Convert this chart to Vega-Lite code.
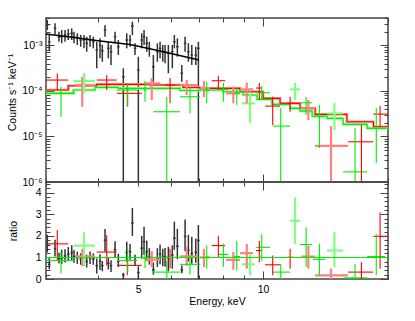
{
  "$schema": "https://vega.github.io/schema/vega-lite/v6.json",
  "autosize": "none",
  "padding": {"left": 46, "top": 18, "right": 369, "bottom": 303},
  "background": "white",
  "config": {
    "view": {"stroke": "#444", "strokeWidth": 1.5},
    "axis": {"grid": false, "domain": false, "labelFont": "Liberation Sans", "labelFontSize": 10, "labelColor": "#000", "titleFont": "Liberation Sans", "titleFontSize": 10, "titleFontWeight": "normal", "titleColor": "#000", "tickColor": "#444", "tickWidth": 1, "labelPadding": 4}
  },
  "datasets": {
    "blk": [
      {"e": 3.022, "elo": 3.001, "ehi": 3.043, "y": 2.806e-3, "ylo": 2.180e-3, "yhi": 3.614e-3, "r": 1.59, "rlo": 1.24, "rhi": 2.05},
      {"e": 3.055, "elo": 3.034, "ehi": 3.076, "y": 1.187e-3, "ylo": 7.92e-4, "yhi": 1.692e-3, "r": 0.68, "rlo": 0.45, "rhi": 0.97},
      {"e": 3.154, "elo": 3.132, "ehi": 3.176, "y": 2.375e-3, "ylo": 1.753e-3, "yhi": 3.058e-3, "r": 1.41, "rlo": 1.04, "rhi": 1.82},
      {"e": 3.224, "elo": 3.201, "ehi": 3.247, "y": 1.552e-3, "ylo": 1.205e-3, "yhi": 1.999e-3, "r": 0.95, "rlo": 0.73, "rhi": 1.22},
      {"e": 3.273, "elo": 3.250, "ehi": 3.296, "y": 1.552e-3, "ylo": 1.112e-3, "yhi": 2.180e-3, "r": 0.97, "rlo": 0.69, "rhi": 1.36},
      {"e": 3.334, "elo": 3.311, "ehi": 3.357, "y": 1.692e-3, "ylo": 1.205e-3, "yhi": 2.180e-3, "r": 1.07, "rlo": 0.76, "rhi": 1.38},
      {"e": 3.395, "elo": 3.371, "ehi": 3.419, "y": 1.780e-3, "ylo": 1.313e-3, "yhi": 2.292e-3, "r": 1.15, "rlo": 0.85, "rhi": 1.48},
      {"e": 3.460, "elo": 3.436, "ehi": 3.484, "y": 1.843e-3, "ylo": 1.313e-3, "yhi": 2.375e-3, "r": 1.22, "rlo": 0.87, "rhi": 1.57},
      {"e": 3.504, "elo": 3.479, "ehi": 3.529, "y": 1.552e-3, "ylo": 1.112e-3, "yhi": 1.999e-3, "r": 1.04, "rlo": 0.75, "rhi": 1.34},
      {"e": 3.569, "elo": 3.544, "ehi": 3.594, "y": 1.476e-3, "ylo": 1.020e-3, "yhi": 1.843e-3, "r": 1.02, "rlo": 0.70, "rhi": 1.27},
      {"e": 3.637, "elo": 3.612, "ehi": 3.662, "y": 1.313e-3, "ylo": 9.36e-4, "yhi": 1.692e-3, "r": 0.92, "rlo": 0.66, "rhi": 1.19},
      {"e": 3.704, "elo": 3.678, "ehi": 3.730, "y": 1.313e-3, "ylo": 8.63e-4, "yhi": 1.692e-3, "r": 0.95, "rlo": 0.62, "rhi": 1.22},
      {"e": 3.760, "elo": 3.734, "ehi": 3.786, "y": 1.112e-3, "ylo": 7.27e-4, "yhi": 1.552e-3, "r": 0.81, "rlo": 0.53, "rhi": 1.13},
      {"e": 3.830, "elo": 3.803, "ehi": 3.857, "y": 1.313e-3, "ylo": 9.36e-4, "yhi": 1.692e-3, "r": 0.98, "rlo": 0.70, "rhi": 1.27},
      {"e": 3.900, "elo": 3.873, "ehi": 3.927, "y": 1.205e-3, "ylo": 8.63e-4, "yhi": 1.552e-3, "r": 0.92, "rlo": 0.66, "rhi": 1.19},
      {"e": 3.975, "elo": 3.947, "ehi": 4.003, "y": 7.92e-4, "ylo": 3.14e-4, "yhi": 1.205e-3, "r": 0.62, "rlo": 0.25, "rhi": 0.95},
      {"e": 4.048, "elo": 4.020, "ehi": 4.076, "y": 1.020e-3, "ylo": 5.20e-4, "yhi": 1.431e-3, "r": 0.82, "rlo": 0.42, "rhi": 1.15},
      {"e": 4.100, "elo": 4.071, "ehi": 4.129, "y": 7.64e-4, "ylo": 4.38e-4, "yhi": 1.020e-3, "r": 0.62, "rlo": 0.36, "rhi": 0.83},
      {"e": 4.162, "elo": 4.133, "ehi": 4.191, "y": 2.180e-3, "ylo": 1.552e-3, "yhi": 2.806e-3, "r": 1.80, "rlo": 1.28, "rhi": 2.32},
      {"e": 4.239, "elo": 4.209, "ehi": 4.269, "y": 8.63e-4, "ylo": 5.20e-4, "yhi": 1.205e-3, "r": 0.73, "rlo": 0.44, "rhi": 1.02},
      {"e": 4.303, "elo": 4.273, "ehi": 4.333, "y": 7.27e-4, "ylo": 3.71e-4, "yhi": 1.020e-3, "r": 0.62, "rlo": 0.32, "rhi": 0.87},
      {"e": 4.400, "elo": 4.369, "ehi": 4.431, "y": 1.552e-3, "ylo": 1.112e-3, "yhi": 1.999e-3, "r": 1.36, "rlo": 0.97, "rhi": 1.75},
      {"e": 4.481, "elo": 4.450, "ehi": 4.512, "y": 9.36e-4, "ylo": 6.15e-4, "yhi": 1.313e-3, "r": 0.83, "rlo": 0.55, "rhi": 1.17},
      {"e": 4.607, "elo": 4.575, "ehi": 4.639, "y": 2.05e-4, "ylo": 1e-6, "yhi": 3.14e-4, "r": 0.19, "rlo": 0, "rhi": 0.29},
      {"e": 4.695, "elo": 4.662, "ehi": 4.728, "y": 1.313e-3, "ylo": 8.63e-4, "yhi": 1.843e-3, "r": 1.23, "rlo": 0.81, "rhi": 1.73},
      {"e": 4.782, "elo": 4.749, "ehi": 4.815, "y": 1.313e-3, "ylo": 9.36e-4, "yhi": 1.692e-3, "r": 1.26, "rlo": 0.89, "rhi": 1.62},
      {"e": 4.844, "elo": 4.810, "ehi": 4.878, "y": 2.668e-3, "ylo": 1.692e-3, "yhi": 3.317e-3, "r": 2.6, "rlo": 2.0, "rhi": 3.3},
      {"e": 4.916, "elo": 4.882, "ehi": 4.950, "y": 8.63e-4, "ylo": 6.15e-4, "yhi": 1.112e-3, "r": 0.87, "rlo": 0.62, "rhi": 1.12},
      {"e": 5.007, "elo": 4.972, "ehi": 5.042, "y": 2.88e-4, "ylo": 1e-6, "yhi": 5.64e-4, "r": 0.30, "rlo": 0, "rhi": 0.59},
      {"e": 5.102, "elo": 5.066, "ehi": 5.138, "y": 1.313e-3, "ylo": 8.63e-4, "yhi": 1.843e-3, "r": 1.43, "rlo": 0.94, "rhi": 2.0},
      {"e": 5.168, "elo": 5.132, "ehi": 5.204, "y": 1.552e-3, "ylo": 1.020e-3, "yhi": 2.180e-3, "r": 1.73, "rlo": 1.13, "rhi": 2.42},
      {"e": 5.246, "elo": 5.209, "ehi": 5.283, "y": 1.112e-3, "ylo": 7.27e-4, "yhi": 1.552e-3, "r": 1.27, "rlo": 0.83, "rhi": 1.78},
      {"e": 5.322, "elo": 5.285, "ehi": 5.359, "y": 8.63e-4, "ylo": 5.64e-4, "yhi": 1.205e-3, "r": 1.02, "rlo": 0.67, "rhi": 1.43},
      {"e": 5.442, "elo": 5.404, "ehi": 5.480, "y": 3.40e-4, "ylo": 1.59e-4, "yhi": 6.15e-4, "r": 0.42, "rlo": 0.20, "rhi": 0.76},
      {"e": 5.564, "elo": 5.525, "ehi": 5.603, "y": 7.27e-4, "ylo": 4.38e-4, "yhi": 1.112e-3, "r": 0.94, "rlo": 0.56, "rhi": 1.43},
      {"e": 5.648, "elo": 5.608, "ehi": 5.688, "y": 8.63e-4, "ylo": 5.20e-4, "yhi": 1.205e-3, "r": 1.15, "rlo": 0.69, "rhi": 1.60},
      {"e": 5.733, "elo": 5.693, "ehi": 5.773, "y": 7.27e-4, "ylo": 4.38e-4, "yhi": 1.020e-3, "r": 1.00, "rlo": 0.60, "rhi": 1.40},
      {"e": 5.807, "elo": 5.766, "ehi": 5.848, "y": 7.27e-4, "ylo": 4.04e-4, "yhi": 1.020e-3, "r": 1.03, "rlo": 0.57, "rhi": 1.44},
      {"e": 5.914, "elo": 5.873, "ehi": 5.955, "y": 6.70e-4, "ylo": 2.44e-4, "yhi": 1.020e-3, "r": 0.98, "rlo": 0.36, "rhi": 1.49},
      {"e": 6.046, "elo": 6.004, "ehi": 6.088, "y": 7.27e-4, "ylo": 3.14e-4, "yhi": 1.020e-3, "r": 1.11, "rlo": 0.48, "rhi": 1.56},
      {"e": 6.114, "elo": 6.071, "ehi": 6.157, "y": 1.205e-3, "ylo": 8.63e-4, "yhi": 1.692e-3, "r": 1.89, "rlo": 1.36, "rhi": 2.66},
      {"e": 6.217, "elo": 6.173, "ehi": 6.261, "y": 9.36e-4, "ylo": 5.64e-4, "yhi": 1.431e-3, "r": 1.52, "rlo": 0.92, "rhi": 2.33},
      {"e": 6.371, "elo": 6.326, "ehi": 6.416, "y": 2.44e-4, "ylo": 1.59e-4, "yhi": 3.71e-4, "r": 0.42, "rlo": 0.27, "rhi": 0.63},
      {"e": 6.489, "elo": 6.444, "ehi": 6.534, "y": 1.112e-3, "ylo": 7.27e-4, "yhi": 1.552e-3, "r": 1.98, "rlo": 1.29, "rhi": 2.76},
      {"e": 6.609, "elo": 6.563, "ehi": 6.655, "y": 7.27e-4, "ylo": 4.38e-4, "yhi": 1.112e-3, "r": 1.34, "rlo": 0.81, "rhi": 2.05},
      {"e": 6.735, "elo": 6.688, "ehi": 6.782, "y": 6.15e-4, "ylo": 3.71e-4, "yhi": 1.020e-3, "r": 1.18, "rlo": 0.71, "rhi": 1.96},
      {"e": 6.886, "elo": 6.838, "ehi": 6.934, "y": 6.15e-4, "ylo": 3.71e-4, "yhi": 9.36e-4, "r": 1.24, "rlo": 0.75, "rhi": 1.88},
      {"e": 6.986, "elo": 6.937, "ehi": 7.035, "y": 8.63e-4, "ylo": 1e-6, "yhi": 1.205e-3, "r": 1.79, "rlo": 0, "rhi": 2.50}
    ],
    "col": [
      {"s": "rp", "e": 3.669, "elo": 3.524, "ehi": 3.937, "y": 1.347e-4, "ylo": 4.49e-5, "yhi": 2.05e-4, "r": 1.05, "rlo": 0.6, "rhi": 1.4},
      {"s": "rp", "e": 5.394, "elo": 5.196, "ehi": 5.648, "y": 1.468e-4, "ylo": 6.31e-5, "yhi": 1.92e-4, "r": 0.9, "rlo": 0.55, "rhi": 1.3},
      {"s": "rp", "e": 6.548, "elo": 6.311, "ehi": 6.974, "y": 1.347e-4, "ylo": 8.12e-5, "yhi": 1.735e-4, "r": 1.05, "rlo": 0.6, "rhi": 1.5},
      {"s": "rp", "e": 7.209, "elo": 7.051, "ehi": 7.45, "y": 1.157e-4, "ylo": 7.34e-5, "yhi": 1.65e-4, "r": 1.0, "rlo": 0.55, "rhi": 1.4},
      {"s": "rp", "e": 8.481, "elo": 8.146, "ehi": 8.803, "y": 8.85e-5, "ylo": 5.34e-5, "yhi": 1.236e-4, "r": 0.89, "rlo": 0.43, "rhi": 1.25},
      {"s": "rp", "e": 9.137, "elo": 8.803, "ehi": 9.461, "y": 1.084e-4, "ylo": 5.34e-5, "yhi": 1.514e-4, "r": 1.20, "rlo": 0.48, "rhi": 1.63},
      {"s": "rp", "e": 12.86, "elo": 12.35, "ehi": 13.35, "y": 4.14e-5, "ylo": 2.29e-5, "yhi": 6.31e-5, "r": 1.04, "rlo": 0.48, "rhi": 1.55},
      {"s": "rp", "e": 14.58, "elo": 13.35, "ehi": 16.03, "y": 6.24e-6, "ylo": 1e-6, "yhi": 1.69e-5, "r": 0.17, "rlo": 0, "rhi": 0.48},
      {"s": "gp", "e": 3.704, "elo": 3.491, "ehi": 3.937, "y": 1.65e-4, "ylo": 8.85e-5, "yhi": 2.47e-4, "r": 1.55, "rlo": 0.63, "rhi": 2.17},
      {"s": "gp", "e": 9.305, "elo": 8.887, "ehi": 9.56, "y": 5.34e-5, "ylo": 1.94e-5, "yhi": 9.60e-5, "r": 0.68, "rlo": 0.17, "rhi": 1.14},
      {"s": "gp", "e": 11.94, "elo": 11.62, "ehi": 12.28, "y": 1.084e-4, "ylo": 6.31e-5, "yhi": 1.49e-4, "r": 2.70, "rlo": 1.63, "rhi": 3.78},
      {"s": "gp", "e": 14.86, "elo": 14.27, "ehi": 15.59, "y": 3.22e-5, "ylo": 1.38e-5, "yhi": 5.50e-5, "r": 1.32, "rlo": 0.56, "rhi": 2.17},
      {"s": "r", "e": 3.194, "elo": 3.0, "ehi": 3.395, "y": 1.735e-4, "ylo": 1.046e-4, "yhi": 2.43e-4, "r": 1.63, "rlo": 0.86, "rhi": 2.27},
      {"s": "r", "e": 4.201, "elo": 3.975, "ehi": 4.441, "y": 1.735e-4, "ylo": 1.046e-4, "yhi": 2.23e-4, "r": 1.25, "rlo": 0.63, "rhi": 2.04},
      {"s": "r", "e": 4.710, "elo": 4.448, "ehi": 5.102, "y": 8.85e-5, "ylo": 4.49e-5, "yhi": 1.468e-4, "r": 0.63, "rlo": 0.17, "rhi": 1.0},
      {"s": "r", "e": 5.970, "elo": 5.81, "ehi": 6.14, "y": 1.347e-4, "ylo": 5.34e-5, "yhi": 1.92e-4, "r": 1.0, "rlo": 0.5, "rhi": 1.4},
      {"s": "r", "e": 7.804, "elo": 7.521, "ehi": 8.101, "y": 1.675e-4, "ylo": 1.046e-4, "yhi": 2.125e-4, "r": 1.55, "rlo": 1.01, "rhi": 2.01},
      {"s": "r", "e": 9.797, "elo": 9.619, "ehi": 9.928, "y": 1.157e-4, "ylo": 6.31e-5, "yhi": 1.49e-4, "r": 1.32, "rlo": 0.78, "rhi": 1.78},
      {"s": "r", "e": 10.55, "elo": 10.11, "ehi": 10.99, "y": 4.65e-5, "ylo": 1.78e-5, "yhi": 7.45e-5, "r": 0.66, "rlo": 0.17, "rhi": 1.09},
      {"s": "r", "e": 11.62, "elo": 11.43, "ehi": 11.81, "y": 5.34e-5, "ylo": 3.49e-5, "yhi": 7.45e-5, "r": 1.01, "rlo": 0.48, "rhi": 1.40},
      {"s": "r", "e": 17.26, "elo": 16.03, "ehi": 18.43, "y": 7.64e-6, "ylo": 1e-6, "yhi": 1.78e-5, "r": 0.32, "rlo": 0, "rhi": 0.78},
      {"s": "r", "e": 19.14, "elo": 18.43, "ehi": 20.0, "y": 3.10e-5, "ylo": 1.61e-5, "yhi": 4.65e-5, "r": 1.98, "rlo": 0.48, "rhi": 3.09},
      {"s": "g", "e": 3.26, "elo": 3.0, "ehi": 3.524, "y": 8.85e-5, "ylo": 2.71e-5, "yhi": 1.236e-4, "r": 0.86, "rlo": 0.26, "rhi": 1.25},
      {"s": "g", "e": 4.721, "elo": 4.448, "ehi": 4.971, "y": 1.046e-4, "ylo": 4.49e-5, "yhi": 1.49e-4, "r": 0.86, "rlo": 0.3, "rhi": 1.4},
      {"s": "g", "e": 5.196, "elo": 5.15, "ehi": 5.24, "y": 1.046e-4, "ylo": 5.79e-5, "yhi": 1.65e-4, "r": 0.95, "rlo": 0.5, "rhi": 1.3},
      {"s": "g", "e": 5.862, "elo": 5.433, "ehi": 6.311, "y": 3.49e-5, "ylo": 1e-6, "yhi": 7.45e-5, "r": 0.32, "rlo": 0, "rhi": 0.86},
      {"s": "g", "e": 6.669, "elo": 6.311, "ehi": 7.051, "y": 7.45e-5, "ylo": 3.22e-5, "yhi": 1.236e-4, "r": 0.68, "rlo": 0.2, "rhi": 1.1},
      {"s": "g", "e": 7.318, "elo": 7.209, "ehi": 7.45, "y": 1.046e-4, "ylo": 5.34e-5, "yhi": 1.59e-4, "r": 1.01, "rlo": 0.48, "rhi": 1.55},
      {"s": "g", "e": 8.025, "elo": 7.804, "ehi": 8.25, "y": 1.084e-4, "ylo": 5.79e-5, "yhi": 1.49e-4, "r": 1.14, "rlo": 0.56, "rhi": 1.63},
      {"s": "g", "e": 8.643, "elo": 8.481, "ehi": 8.803, "y": 8.85e-5, "ylo": 4.9e-5, "yhi": 1.236e-4, "r": 1.04, "rlo": 0.4, "rhi": 1.78},
      {"s": "g", "e": 9.928, "elo": 9.619, "ehi": 10.40, "y": 9.13e-5, "ylo": 6.31e-5, "yhi": 1.281e-4, "r": 1.47, "rlo": 0.85, "rhi": 2.08},
      {"s": "g", "e": 11.03, "elo": 10.55, "ehi": 11.62, "y": 1.69e-5, "ylo": 1e-6, "yhi": 4.21e-5, "r": 0.32, "rlo": 0, "rhi": 0.70},
      {"s": "g", "e": 12.70, "elo": 12.28, "ehi": 13.13, "y": 5.50e-5, "ylo": 2.95e-5, "yhi": 7.34e-5, "r": 1.60, "rlo": 0.56, "rhi": 2.4},
      {"s": "g", "e": 13.67, "elo": 13.2, "ehi": 14.11, "y": 2.71e-5, "ylo": 5.56e-6, "yhi": 4.9e-5, "r": 0.91, "rlo": 0.17, "rhi": 1.63},
      {"s": "g", "e": 16.66, "elo": 15.59, "ehi": 17.81, "y": 1.67e-6, "ylo": 1e-6, "yhi": 1.53e-5, "r": 0.05, "rlo": 0, "rhi": 0.7},
      {"s": "g", "e": 18.74, "elo": 17.81, "ehi": 19.68, "y": 1.51e-5, "ylo": 2.6e-6, "yhi": 4.21e-5, "r": 1.04, "rlo": 0.17, "rhi": 2.08}
    ],
    "mod": [
      {"s": "r", "e": 3.0, "y": 1.046e-4}, {"s": "r", "e": 3.395, "y": 1.300e-4}, {"s": "r", "e": 3.975, "y": 1.396e-4},
      {"s": "r", "e": 5.342, "y": 1.347e-4}, {"s": "r", "e": 6.416, "y": 1.187e-4}, {"s": "r", "e": 7.051, "y": 1.140e-4},
      {"s": "r", "e": 8.803, "y": 9.60e-5}, {"s": "r", "e": 10.0, "y": 6.87e-5}, {"s": "r", "e": 10.99, "y": 5.34e-5},
      {"s": "r", "e": 12.28, "y": 4.14e-5}, {"s": "r", "e": 13.35, "y": 3.06e-5}, {"s": "r", "e": 15.92, "y": 2.10e-5},
      {"s": "r", "e": 18.45, "y": 1.63e-5}, {"s": "r", "e": 20.0, "y": 1.63e-5},
      {"s": "g", "e": 3.0, "y": 8.85e-5}, {"s": "g", "e": 3.491, "y": 1.046e-4}, {"s": "g", "e": 3.937, "y": 1.199e-4},
      {"s": "g", "e": 4.481, "y": 1.140e-4}, {"s": "g", "e": 6.311, "y": 1.020e-4}, {"s": "g", "e": 7.051, "y": 1.046e-4},
      {"s": "g", "e": 8.011, "y": 9.60e-5}, {"s": "g", "e": 8.951, "y": 8.12e-5}, {"s": "g", "e": 9.674, "y": 6.53e-5},
      {"s": "g", "e": 10.51, "y": 5.07e-5}, {"s": "g", "e": 11.62, "y": 4.14e-5}, {"s": "g", "e": 12.28, "y": 3.61e-5},
      {"s": "g", "e": 13.13, "y": 2.81e-5}, {"s": "g", "e": 14.27, "y": 2.50e-5}, {"s": "g", "e": 15.59, "y": 1.84e-5},
      {"s": "g", "e": 17.81, "y": 1.51e-5}, {"s": "g", "e": 20.0, "y": 1.51e-5}
    ],
    "bmod": [
      {"e": 3.0, "y": 1.78e-3}, {"e": 3.43, "y": 1.529e-3}, {"e": 4.05, "y": 1.249e-3},
      {"e": 4.78, "y": 1.046e-3}, {"e": 5.65, "y": 7.53e-4}, {"e": 7.01, "y": 4.77e-4}
    ]
  },
  "vconcat": [
    {
      "width": 342,
      "height": 164,
      "resolve": {"axis": {"x": "independent", "y": "independent"}, "scale": {"color": "independent"}},
      "layer": [
        {
          "data": {"name": "blk"},
          "mark": {"type": "rule", "color": "#333", "strokeWidth": 1.5},
          "encoding": {
            "x": {"field": "elo", "type": "quantitative", "scale": {"type": "log", "domain": [3, 20], "nice": false},
              "axis": {"orient": "bottom", "values": [3, 4, 5, 6, 7, 8, 9, 10, 20], "labels": false, "title": null,
                "tickSize": {"condition": {"test": "datum.value == 10", "value": -8}, "value": -4}}},
            "x2": {"field": "ehi"},
            "y": {"field": "y", "type": "quantitative", "scale": {"type": "log", "domain": [0.000001, 0.004], "nice": false, "clamp": true},
              "axis": {"orient": "left",
                "values": [0.000001, 0.000002, 0.000003, 0.000004, 0.000005, 0.000006, 0.000007, 0.000008, 0.000009, 0.00001, 0.00002, 0.00003, 0.00004, 0.00005, 0.00006, 0.00007, 0.00008, 0.00009, 0.0001, 0.0002, 0.0003, 0.0004, 0.0005, 0.0006, 0.0007, 0.0008, 0.0009, 0.001, 0.002, 0.003, 0.004],
                "labelExpr": "datum.value == 0.001 ? '10⁻³' : datum.value == 0.0001 ? '10⁻⁴' : datum.value == 0.00001 ? '10⁻⁵' : datum.value == 0.000001 ? '10⁻⁶' : ''",
                "labelOverlap": false, "labelFontSize": 10.5, "labelPadding": 12,
                "tickSize": {"condition": {"test": "indexof([0.000001, 0.00001, 0.0001, 0.001], datum.value) >= 0", "value": -8}, "value": -4},
                "title": "Counts s⁻¹    keV⁻¹", "titleFontSize": 10.5, "titleX": -34, "titleY": 74, "titleBaseline": "middle", "titleAngle": 270}}
          }
        },
        {
          "data": {"name": "blk"},
          "mark": {"type": "rule", "color": "#333", "strokeWidth": 1.5},
          "encoding": {
            "x": {"field": "e", "type": "quantitative", "scale": {"type": "log", "domain": [3, 20], "nice": false}, "axis": null},
            "y": {"field": "ylo", "type": "quantitative", "scale": {"type": "log", "domain": [0.000001, 0.004], "nice": false, "clamp": true}, "axis": null},
            "y2": {"field": "yhi"}
          }
        },
        {
          "data": {"name": "bmod"},
          "mark": {"type": "line", "color": "#000", "strokeWidth": 1.5},
          "encoding": {
            "x": {"field": "e", "type": "quantitative", "scale": {"type": "log", "domain": [3, 20], "nice": false}, "axis": null},
            "y": {"field": "y", "type": "quantitative", "scale": {"type": "log", "domain": [0.000001, 0.004], "nice": false, "clamp": true}, "axis": null}
          }
        },
        {
          "data": {"name": "mod"},
          "mark": {"type": "line", "interpolate": "step-after", "strokeWidth": 2.6},
          "encoding": {
            "x": {"field": "e", "type": "quantitative", "scale": {"type": "log", "domain": [3, 20], "nice": false}, "axis": null},
            "y": {"field": "y", "type": "quantitative", "scale": {"type": "log", "domain": [0.000001, 0.004], "nice": false, "clamp": true}, "axis": null},
            "color": {"field": "s", "type": "nominal", "scale": {"domain": ["r", "g"], "range": ["#ff9999", "#99ff99"]}, "legend": null}
          }
        },
        {
          "data": {"name": "mod"},
          "mark": {"type": "line", "interpolate": "step-after", "strokeWidth": 1.1},
          "encoding": {
            "x": {"field": "e", "type": "quantitative", "scale": {"type": "log", "domain": [3, 20], "nice": false}, "axis": null},
            "y": {"field": "y", "type": "quantitative", "scale": {"type": "log", "domain": [0.000001, 0.004], "nice": false, "clamp": true}, "axis": null},
            "color": {"field": "s", "type": "nominal", "scale": {"domain": ["r", "g"], "range": ["#ff0000", "#00ee00"]}, "legend": null}
          }
        },
        {
          "data": {"name": "col"},
          "transform": [{"filter": "datum.s == 'rp' || datum.s == 'gp'"}],
          "mark": {"type": "rule", "strokeWidth": 2.2},
          "encoding": {
            "x": {"field": "elo", "type": "quantitative", "scale": {"type": "log", "domain": [3, 20], "nice": false}, "axis": null},
            "x2": {"field": "ehi"},
            "y": {"field": "y", "type": "quantitative", "scale": {"type": "log", "domain": [0.000001, 0.004], "nice": false, "clamp": true}, "axis": null},
            "color": {"field": "s", "type": "nominal", "scale": {"domain": ["rp", "gp", "r", "g"], "range": ["#ff8080", "#80ff80", "#ff0000", "#00ee00"]}, "legend": null}
          }
        },
        {
          "data": {"name": "col"},
          "transform": [{"filter": "datum.s == 'rp' || datum.s == 'gp'"}],
          "mark": {"type": "rule", "strokeWidth": 2.2},
          "encoding": {
            "x": {"field": "e", "type": "quantitative", "scale": {"type": "log", "domain": [3, 20], "nice": false}, "axis": null},
            "y": {"field": "ylo", "type": "quantitative", "scale": {"type": "log", "domain": [0.000001, 0.004], "nice": false, "clamp": true}, "axis": null},
            "y2": {"field": "yhi"},
            "color": {"field": "s", "type": "nominal", "scale": {"domain": ["rp", "gp", "r", "g"], "range": ["#ff8080", "#80ff80", "#ff0000", "#00ee00"]}, "legend": null}
          }
        },
        {
          "data": {"name": "col"},
          "transform": [{"filter": "datum.s == 'r' || datum.s == 'g'"}],
          "mark": {"type": "rule", "strokeWidth": 1.1},
          "encoding": {
            "x": {"field": "elo", "type": "quantitative", "scale": {"type": "log", "domain": [3, 20], "nice": false}, "axis": null},
            "x2": {"field": "ehi"},
            "y": {"field": "y", "type": "quantitative", "scale": {"type": "log", "domain": [0.000001, 0.004], "nice": false, "clamp": true}, "axis": null},
            "color": {"field": "s", "type": "nominal", "scale": {"domain": ["rp", "gp", "r", "g"], "range": ["#ff8080", "#80ff80", "#ff0000", "#00ee00"]}, "legend": null}
          }
        },
        {
          "data": {"name": "col"},
          "transform": [{"filter": "datum.s == 'r' || datum.s == 'g'"}],
          "mark": {"type": "rule", "strokeWidth": 1.1},
          "encoding": {
            "x": {"field": "e", "type": "quantitative", "scale": {"type": "log", "domain": [3, 20], "nice": false}, "axis": null},
            "y": {"field": "ylo", "type": "quantitative", "scale": {"type": "log", "domain": [0.000001, 0.004], "nice": false, "clamp": true}, "axis": null},
            "y2": {"field": "yhi"},
            "color": {"field": "s", "type": "nominal", "scale": {"domain": ["rp", "gp", "r", "g"], "range": ["#ff8080", "#80ff80", "#ff0000", "#00ee00"]}, "legend": null}
          }
        },
        {
          "data": {"name": "bmod"},
          "mark": {"type": "point", "opacity": 0},
          "encoding": {
            "x": {"field": "e", "type": "quantitative", "scale": {"type": "log", "domain": [3, 20], "nice": false},
              "axis": {"orient": "top", "values": [3, 4, 5, 6, 7, 8, 9, 10, 20], "labels": false, "title": null,
                "tickSize": {"condition": {"test": "datum.value == 10", "value": -8}, "value": -4}}},
            "y": {"field": "y", "type": "quantitative", "scale": {"type": "log", "domain": [0.000001, 0.004], "nice": false, "clamp": true},
              "axis": {"orient": "right",
                "values": [0.000001, 0.000002, 0.000003, 0.000004, 0.000005, 0.000006, 0.000007, 0.000008, 0.000009, 0.00001, 0.00002, 0.00003, 0.00004, 0.00005, 0.00006, 0.00007, 0.00008, 0.00009, 0.0001, 0.0002, 0.0003, 0.0004, 0.0005, 0.0006, 0.0007, 0.0008, 0.0009, 0.001, 0.002, 0.003, 0.004],
                "labels": false, "title": null,
                "tickSize": {"condition": {"test": "indexof([0.000001, 0.00001, 0.0001, 0.001], datum.value) >= 0", "value": -8}, "value": -4}}}
          }
        }
      ]
    },
    {
      "width": 342,
      "height": 97,
      "resolve": {"axis": {"x": "independent", "y": "independent"}, "scale": {"color": "independent"}},
      "layer": [
        {
          "data": {"name": "blk"},
          "mark": {"type": "rule", "color": "#333", "strokeWidth": 1.5},
          "encoding": {
            "x": {"field": "elo", "type": "quantitative", "scale": {"type": "log", "domain": [3, 20], "nice": false},
              "axis": {"orient": "bottom", "values": [3, 4, 5, 6, 7, 8, 9, 10, 20],
                "labelExpr": "datum.value == 5 ? '5' : datum.value == 10 ? '10' : ''", "labelFlush": false, "labelOverlap": false,
                "labelFontSize": 10.5,
                "labelPadding": {"condition": {"test": "datum.value == 10", "value": 13}, "value": 9},
                "tickSize": {"condition": {"test": "datum.value == 10", "value": -8}, "value": -4},
                "title": "Energy, keV", "titleFontSize": 10.5, "titleY": 22, "titleBaseline": "middle"}},
            "x2": {"field": "ehi"},
            "y": {"field": "r", "type": "quantitative", "scale": {"domain": [0, 4.5], "nice": false, "zero": false, "clamp": true},
              "axis": {"orient": "left",
                "values": [0, 0.2, 0.4, 0.6, 0.8, 1, 1.2, 1.4, 1.6, 1.8, 2, 2.2, 2.4, 2.6, 2.8, 3, 3.2, 3.4, 3.6, 3.8, 4, 4.2, 4.4],
                "labelExpr": "datum.value == 0 ? '0' : datum.value == 1 ? '1' : datum.value == 2 ? '2' : datum.value == 3 ? '3' : datum.value == 4 ? '4' : ''",
                "labelOverlap": false, "labelFontSize": 10.5, "labelPadding": 13,
                "tickSize": {"condition": {"test": "indexof([0, 1, 2, 3, 4], datum.value) >= 0", "value": -8}, "value": -4},
                "title": "ratio", "titleFontSize": 10.5, "titleX": -33, "titleBaseline": "middle", "titleAngle": 270}}
          }
        },
        {
          "data": {"name": "blk"},
          "mark": {"type": "rule", "color": "#333", "strokeWidth": 1.5},
          "encoding": {
            "x": {"field": "e", "type": "quantitative", "scale": {"type": "log", "domain": [3, 20], "nice": false}, "axis": null},
            "y": {"field": "rlo", "type": "quantitative", "scale": {"domain": [0, 4.5], "nice": false, "zero": false, "clamp": true}, "axis": null},
            "y2": {"field": "rhi"}
          }
        },
        {
          "data": {"name": "col"},
          "transform": [{"filter": "datum.s == 'rp' || datum.s == 'gp'"}],
          "mark": {"type": "rule", "strokeWidth": 2.2},
          "encoding": {
            "x": {"field": "elo", "type": "quantitative", "scale": {"type": "log", "domain": [3, 20], "nice": false}, "axis": null},
            "x2": {"field": "ehi"},
            "y": {"field": "r", "type": "quantitative", "scale": {"domain": [0, 4.5], "nice": false, "zero": false, "clamp": true}, "axis": null},
            "color": {"field": "s", "type": "nominal", "scale": {"domain": ["rp", "gp", "r", "g"], "range": ["#ff8080", "#80ff80", "#ff0000", "#00ee00"]}, "legend": null}
          }
        },
        {
          "data": {"name": "col"},
          "transform": [{"filter": "datum.s == 'rp' || datum.s == 'gp'"}],
          "mark": {"type": "rule", "strokeWidth": 2.2},
          "encoding": {
            "x": {"field": "e", "type": "quantitative", "scale": {"type": "log", "domain": [3, 20], "nice": false}, "axis": null},
            "y": {"field": "rlo", "type": "quantitative", "scale": {"domain": [0, 4.5], "nice": false, "zero": false, "clamp": true}, "axis": null},
            "y2": {"field": "rhi"},
            "color": {"field": "s", "type": "nominal", "scale": {"domain": ["rp", "gp", "r", "g"], "range": ["#ff8080", "#80ff80", "#ff0000", "#00ee00"]}, "legend": null}
          }
        },
        {
          "data": {"name": "col"},
          "transform": [{"filter": "datum.s == 'r' || datum.s == 'g'"}],
          "mark": {"type": "rule", "strokeWidth": 1.1},
          "encoding": {
            "x": {"field": "elo", "type": "quantitative", "scale": {"type": "log", "domain": [3, 20], "nice": false}, "axis": null},
            "x2": {"field": "ehi"},
            "y": {"field": "r", "type": "quantitative", "scale": {"domain": [0, 4.5], "nice": false, "zero": false, "clamp": true}, "axis": null},
            "color": {"field": "s", "type": "nominal", "scale": {"domain": ["rp", "gp", "r", "g"], "range": ["#ff8080", "#80ff80", "#ff0000", "#00ee00"]}, "legend": null}
          }
        },
        {
          "data": {"name": "col"},
          "transform": [{"filter": "datum.s == 'r' || datum.s == 'g'"}],
          "mark": {"type": "rule", "strokeWidth": 1.1},
          "encoding": {
            "x": {"field": "e", "type": "quantitative", "scale": {"type": "log", "domain": [3, 20], "nice": false}, "axis": null},
            "y": {"field": "rlo", "type": "quantitative", "scale": {"domain": [0, 4.5], "nice": false, "zero": false, "clamp": true}, "axis": null},
            "y2": {"field": "rhi"},
            "color": {"field": "s", "type": "nominal", "scale": {"domain": ["rp", "gp", "r", "g"], "range": ["#ff8080", "#80ff80", "#ff0000", "#00ee00"]}, "legend": null}
          }
        },
        {
          "data": {"values": [{"ratio": 1}]},
          "mark": {"type": "rule", "color": "#00ee00", "strokeWidth": 1.1},
          "encoding": {
            "y": {"field": "ratio", "type": "quantitative", "scale": {"domain": [0, 4.5], "nice": false, "zero": false, "clamp": true}, "axis": null}
          }
        },
        {
          "data": {"name": "bmod"},
          "mark": {"type": "point", "opacity": 0},
          "encoding": {
            "x": {"field": "e", "type": "quantitative", "scale": {"type": "log", "domain": [3, 20], "nice": false},
              "axis": {"orient": "top", "values": [3, 4, 5, 6, 7, 8, 9, 10, 20], "labels": false, "title": null,
                "tickSize": {"condition": {"test": "datum.value == 10", "value": -8}, "value": -4}}},
            "y": {"datum": 1, "type": "quantitative", "scale": {"domain": [0, 4.5], "nice": false, "zero": false, "clamp": true},
              "axis": {"orient": "right",
                "values": [0, 0.2, 0.4, 0.6, 0.8, 1, 1.2, 1.4, 1.6, 1.8, 2, 2.2, 2.4, 2.6, 2.8, 3, 3.2, 3.4, 3.6, 3.8, 4, 4.2, 4.4],
                "labels": false, "title": null,
                "tickSize": {"condition": {"test": "indexof([0, 1, 2, 3, 4], datum.value) >= 0", "value": -8}, "value": -4}}}
          }
        }
      ]
    }
  ],
  "spacing": 0,
  "bounds": "flush"
}
